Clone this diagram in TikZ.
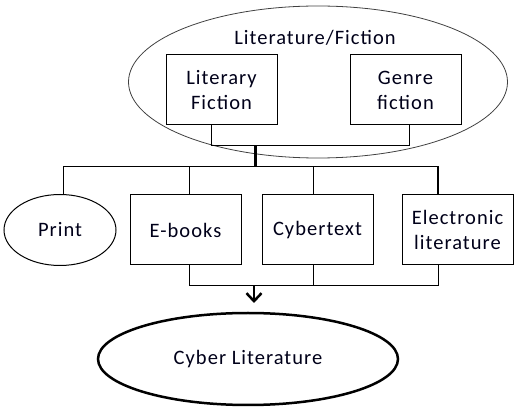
\documentclass[tikz,border=0pt]{standalone}
\usepackage{fontspec}
\setmainfont{Carlito}[LetterSpace=5]
\usetikzlibrary{shapes.geometric,arrows.meta}
\begin{document}
\begin{tikzpicture}[x=1pt,y=-1pt,
  every node/.style={font=\fontsize{20.5}{25}\selectfont, text=black!90!blue},
  box/.style={draw=black, line width=1pt, minimum width=111pt, minimum height=70pt, inner sep=0pt, align=center},
  conn/.style={draw=black, line width=1pt},
  thickconn/.style={draw=black, line width=3pt},
  ]
\useasboundingbox (0,0) rectangle (517,411);
% top ellipse
\node[draw=black!75, line width=0.8pt, ellipse, minimum width=379pt, minimum height=152pt, inner sep=0pt] (litfic) at (318,82) {};
\node (title) at (315,38) {Literature/Fiction};
\node[box] (literary) at (221.5,90) {Literary\\Fiction};
\node[box] (genre) at (405.5,90) {Genre\\fiction};
% second row
\node[draw=black, line width=1pt, ellipse, minimum width=112pt, minimum height=71pt, inner sep=0pt] (print) at (60,230) {Print};
\node[box] (ebooks) at (185.5,230) {E-books};
\node[box] (cyber) at (317.5,230) {Cybertext};
\node[box] (elec) at (457.5,230) {Electronic\\literature};
% bottom ellipse
\node[draw=black, line width=2.5pt, ellipse, minimum width=300pt, minimum height=92pt, inner sep=0pt] (cyberlit) at (248,359) {Cyber Literature};
% coordinates
\coordinate (j1) at (211,146);
\coordinate (j2) at (409,146);
\coordinate (jc) at (255,146);
\coordinate (b0) at (63,166.5);
\coordinate (bc) at (255,166.5);
\coordinate (b1) at (189,166.5);
\coordinate (b2) at (313,166.5);
\coordinate (b3) at (438,166.5);
\coordinate (c1) at (189,286);
\coordinate (c2) at (313,286);
\coordinate (c3) at (438,286);
\coordinate (ca) at (254,286);
% top connectors
\draw[conn] (literary.south -| j1) -- (j1) -- (j2) -- (genre.south -| j2);
\draw[thickconn] (jc) -- (bc);
\draw[conn] (b0) -- (b3);
\draw[conn] (b0) -- (print.north -| b0);
\draw[conn] (b1) -- (ebooks.north -| b1);
\draw[conn] (b2) -- (cyber.north -| b2);
\draw[draw=black, line width=2pt] (b3) -- (elec.north -| b3);
% bottom connectors
\draw[conn] (ebooks.south -| c1) -- (c1) -- (c3) -- (elec.south -| c3);
\draw[conn] (cyber.south -| c2) -- (c2);
\draw[draw=black, line width=2pt, -{Straight Barb[length=8pt,width=15pt,line width=2.5pt]}] (ca) -- ++(0,17);
\end{tikzpicture}
\end{document}
